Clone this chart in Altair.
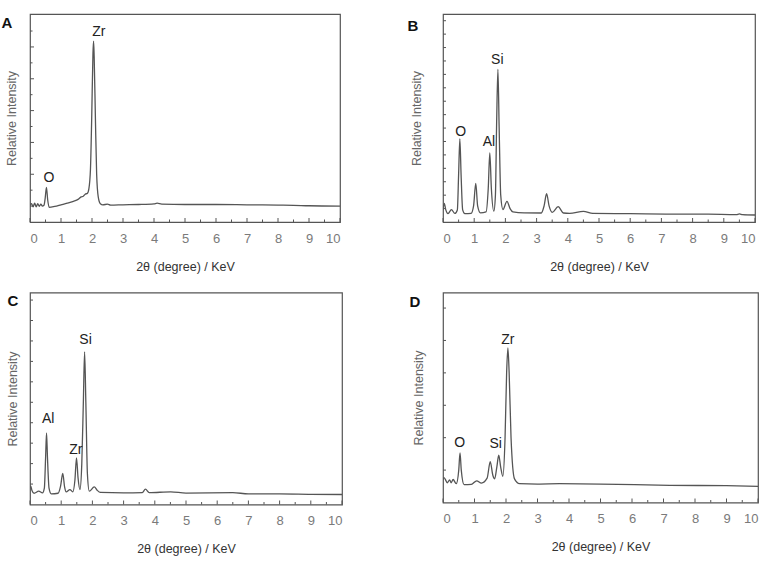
import altair as alt
import pandas as pd

# ---------------- data ----------------
a_x = [0.00, 0.05, 0.10, 0.15, 0.20, 0.25, 0.30, 0.35, 0.40, 0.45, 0.49, 0.53, 0.57, 0.62, 0.80,
       1.00, 1.20, 1.40, 1.55, 1.65, 1.72, 1.78, 1.85, 1.90, 1.95, 1.99, 2.03, 2.05, 2.07, 2.11,
       2.15, 2.20, 2.27, 2.35, 2.50, 2.60, 3.00, 3.50, 4.00, 4.10, 4.25, 5.00, 6.00, 7.00, 8.00,
       8.50, 9.00, 10.0]
a_y = [1.05, 1.15, 0.95, 1.18, 0.95, 1.15, 0.98, 1.12, 1.00, 1.05, 1.50, 2.18, 1.40, 0.92, 0.98,
       1.08, 1.18, 1.30, 1.42, 1.58, 1.62, 1.75, 1.80, 2.10, 3.30, 6.50, 10.5, 11.37, 10.4, 6.50,
       3.00, 1.60, 1.15, 1.08, 1.12, 1.06, 1.08, 1.10, 1.14, 1.18, 1.12, 1.10, 1.10, 1.08, 1.06,
       1.05, 1.02, 1.00]

b_x = [0.00, 0.04, 0.09, 0.16, 0.27, 0.38, 0.46, 0.50, 0.54, 0.58, 0.63, 0.70, 0.90, 0.98, 1.05,
       1.11, 1.20, 1.38, 1.45, 1.50, 1.55, 1.63, 1.68, 1.72, 1.76, 1.80, 1.85, 1.92, 2.05, 2.15,
       2.24, 2.60, 3.15, 3.24, 3.32, 3.40, 3.50, 3.69, 3.86, 4.06, 4.50, 4.80, 6.00, 7.15, 8.50,
       9.40, 9.50, 9.60, 10.0]
b_y = [0.90, 1.39, 0.90, 0.62, 0.92, 0.64, 0.90, 3.50, 6.20, 3.50, 0.90, 0.62, 0.64, 1.20, 2.88,
       1.20, 0.68, 0.75, 2.50, 5.15, 2.50, 0.81, 2.00, 7.50, 11.38, 7.00, 2.00, 0.93, 1.54, 1.00,
       0.75, 0.68, 0.67, 1.20, 2.11, 1.20, 0.72, 1.14, 0.67, 0.64, 0.79, 0.64, 0.62, 0.59, 0.58,
       0.55, 0.60, 0.55, 0.52]

c_x = [0.00, 0.02, 0.06, 0.13, 0.28, 0.40, 0.46, 0.50, 0.53, 0.56, 0.61, 0.68, 0.90, 0.98, 1.05,
       1.11, 1.16, 1.28, 1.37, 1.44, 1.49, 1.54, 1.60, 1.66, 1.71, 1.75, 1.79, 1.84, 1.90, 2.06,
       2.15, 2.26, 3.00, 3.60, 3.70, 3.82, 4.51, 5.00, 6.50, 7.00, 8.00, 9.00, 10.0]
c_y = [0.80, 0.91, 0.70, 0.55, 0.65, 0.57, 0.80, 2.30, 3.50, 2.30, 0.80, 0.52, 0.55, 0.90, 1.52,
       0.85, 0.62, 0.73, 0.62, 1.20, 2.28, 1.30, 0.73, 2.00, 5.00, 7.47, 5.00, 1.50, 0.65, 0.86,
       0.70, 0.59, 0.57, 0.58, 0.75, 0.58, 0.62, 0.56, 0.58, 0.52, 0.52, 0.50, 0.49]

d_x = [0.00, 0.03, 0.14, 0.21, 0.26, 0.32, 0.42, 0.50, 0.54, 0.58, 0.67, 0.90, 1.07, 1.22, 1.40,
       1.50, 1.58, 1.64, 1.71, 1.77, 1.83, 1.90, 1.97, 2.02, 2.06, 2.10, 2.16, 2.27, 2.43, 3.00,
       3.70, 5.00, 7.20, 9.00, 10.0]
d_y = [0.70, 0.77, 0.61, 0.70, 0.61, 0.71, 0.58, 1.00, 1.53, 1.00, 0.55, 0.56, 0.67, 0.60, 0.75,
       1.26, 0.85, 0.73, 1.10, 1.46, 1.10, 0.81, 2.00, 4.00, 4.77, 4.00, 2.00, 0.73, 0.58, 0.57,
       0.58, 0.57, 0.53, 0.52, 0.50]

# peak labels
a_lab = ["O", "Zr"]
a_lab_x = [0.61, 2.22]
a_lab_y = [2.78, 11.95]
b_lab = ["O", "Al", "Si"]
b_lab_x = [0.57, 1.47, 1.74]
b_lab_y = [6.70, 5.96, 12.05]
c_lab = ["Al", "Zr", "Si"]
c_lab_x = [0.58, 1.47, 1.78]
c_lab_y = [4.16, 2.66, 8.03]
d_lab = ["O", "Si", "Zr"]
d_lab_x = [0.53, 1.67, 2.06]
d_lab_y = [1.85, 1.80, 5.01]

# axis ticks
x_major = [0, 1, 2, 3, 4, 5, 6, 7, 8, 9, 10]
x_minor = [0.5, 1.5, 2.5, 3.5, 4.5, 5.5, 6.5, 7.5, 8.5, 9.5]
a_yt_long = [1, 3, 5, 7, 9, 11]
a_yt_short = [2, 4, 6, 8, 10, 12]
b_yt = [1, 2, 3, 4, 5, 6, 7, 8, 9, 10, 11, 12, 13, 14, 15]
c_yt = [1, 2, 3, 4, 5, 6, 7, 8, 9, 10]
d_yt = [1, 2, 3, 4, 5, 6]

FONT = "Liberation Sans"
INK = "#555555"


def panel(letter, xs, ys, ymax, labs, lab_x, lab_y, yt_long, yt_short,
          w, h, ytitle_pad, letter_dx, letter_dy):
    xsc = alt.Scale(domain=[0, 10], nice=False, zero=False)
    ysc = alt.Scale(domain=[0, ymax], nice=False, zero=False)
    xax = alt.Axis(
        values=x_major, ticks=False, domain=False, grid=False, minExtent=0,
        labelPadding=10, labelFontSize=13, labelColor="#7a7a7a", labelFont=FONT,
        title="2θ (degree) / KeV", titleFontSize=12.5, titleFontWeight="normal",
        titleColor="#333333", titleFont=FONT, titlePadding=15)
    yax = alt.Axis(
        ticks=False, domain=False, grid=False, labels=False, minExtent=0,
        title="Relative Intensity", titleFontSize=12.5, titleFontWeight="normal",
        titleColor="#666666", titleFont=FONT, titlePadding=ytitle_pad)

    def X(f):
        return alt.X(f, scale=xsc, axis=xax, title="2θ (degree) / KeV")

    def Y(f):
        return alt.Y(f, scale=ysc, axis=yax, title="Relative Intensity")

    line = alt.Chart(pd.DataFrame({"e": xs, "v": ys})).mark_line(
        color=INK, strokeWidth=1.3, interpolate="monotone", clip=True
    ).encode(x=X("e:Q"), y=Y("v:Q"))

    layers = [line]

    xmaj = alt.Chart(pd.DataFrame({"e": x_major})).mark_rule(color=INK, strokeWidth=1).encode(
        x=X("e:Q"), y=alt.value(h), y2=alt.value(h - 4))
    xmin = alt.Chart(pd.DataFrame({"e": x_minor})).mark_rule(color=INK, strokeWidth=1).encode(
        x=X("e:Q"), y=alt.value(h), y2=alt.value(h - 2.5))
    layers += [xmaj, xmin]

    ylong = alt.Chart(pd.DataFrame({"v": yt_long})).mark_rule(color=INK, strokeWidth=1).encode(
        y=Y("v:Q"), x=alt.value(0), x2=alt.value(4 if yt_short else 3))
    layers.append(ylong)
    if yt_short:
        yshort = alt.Chart(pd.DataFrame({"v": yt_short})).mark_rule(color=INK, strokeWidth=1).encode(
            y=Y("v:Q"), x=alt.value(0), x2=alt.value(2.5))
        layers.append(yshort)

    txt = alt.Chart(pd.DataFrame({"n": labs, "e": lab_x, "v": lab_y})).mark_text(
        fontSize=14, font=FONT, color="#222222", baseline="middle", align="center"
    ).encode(x=X("e:Q"), y=Y("v:Q"), text="n:N")
    layers.append(txt)

    let = alt.Chart(pd.DataFrame({"n": [letter]})).mark_text(
        fontSize=15, font=FONT, fontWeight="bold", color="#111111",
        baseline="middle", align="center"
    ).encode(text="n:N", x=alt.value(letter_dx), y=alt.value(letter_dy))
    layers.append(let)

    return alt.layer(*layers).properties(width=w, height=h)


A = panel("A", a_x, a_y, 13.07, a_lab, a_lab_x, a_lab_y, a_yt_long, a_yt_short,
          310, 208, 12, -23, 9)
B = panel("B", b_x, b_y, 15.5, b_lab, b_lab_x, b_lab_y, b_yt, [],
          312, 208, 20, -30, 12)
C = panel("C", c_x, c_y, 10.37, c_lab, c_lab_x, c_lab_y, c_yt, [],
          312, 212, 11, -17, 8)
D = panel("D", d_x, d_y, 6.48, d_lab, d_lab_x, d_lab_y, d_yt, [],
          315, 210, 18, -28, 9)

row1 = alt.hconcat(A, B, spacing=64)
row2 = alt.hconcat(C, D, spacing=64)

chart = alt.concat(
    row1, row2, columns=1, align="none", spacing=17.5,
).properties(
    padding={"left": 0, "top": 13, "right": 0, "bottom": 0},
    background="white",
).configure_view(
    stroke=INK, strokeWidth=1.2
)

chart.save("out.html", embed_options={"renderer": "svg", "actions": False})
